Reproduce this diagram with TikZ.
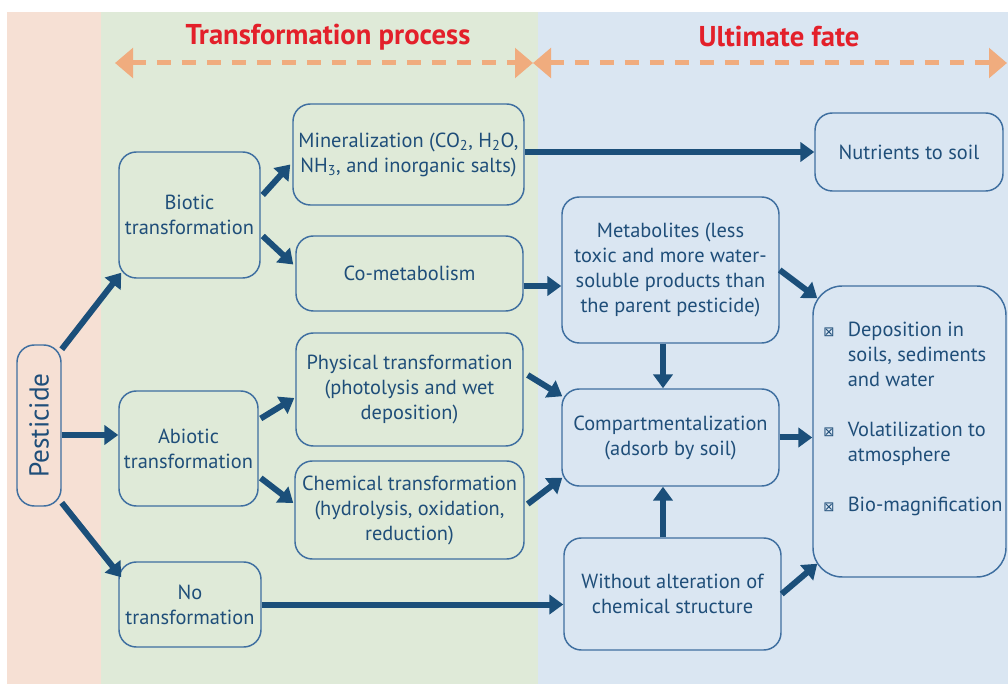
\documentclass[tikz,border=0pt]{standalone}
\usepackage{fontspec}
\setmainfont{PT Sans}
\newfontfamily\symfont{DejaVu Sans}
\usetikzlibrary{arrows.meta}
\definecolor{peach}{HTML}{F6E0D4}
\definecolor{greenbg}{HTML}{DFEAD8}
\definecolor{bluebg}{HTML}{DAE6F2}
\definecolor{boxblue}{HTML}{3F6FA0}
\definecolor{textblue}{HTML}{1F4E79}
\definecolor{arrblue}{HTML}{1B4F7A}
\definecolor{hdrred}{HTML}{E3202A}
\definecolor{hdrorange}{HTML}{F0AC7E}
\begin{document}
\begin{tikzpicture}[x=0.75pt,y=-0.75pt,
  box/.style={draw=boxblue, line width=1.1pt, rounded corners=13pt, align=center,
    text=textblue, font=\fontsize{15.3}{18.75}\selectfont, inner sep=0pt},
  sz/.style 2 args={minimum width={#1*0.75pt}, minimum height={#2*0.75pt}},
  arr/.style={draw=arrblue, line width=4.5pt, -{Triangle[length=10.5pt,width=14.5pt]}},
  hdrarr/.style={draw=hdrorange, line width=3.75pt, dash pattern=on 10.5pt off 8.25pt,
    {Triangle[length=13.5pt,width=22pt]}-{Triangle[length=13.5pt,width=22pt]}},
  hdr/.style={text=hdrred, font=\bfseries\fontsize{21.5}{24}\selectfont, inner sep=0pt}
]
\useasboundingbox (0,0) rectangle (1008,684);
\fill[white] (0,0) rectangle (1008,684);
\fill[peach] (7,12) rectangle (101,684);
\fill[greenbg] (101,12) rectangle (538,684);
\fill[bluebg] (538,12) rectangle (1008,684);

% headers
\node[hdr] (t1) at (328,37) {Transformation process};
\node[hdr] (t2) at (779,37) {Ultimate fate};
\coordinate (h1) at (115,63);
\coordinate (h2) at (533,63);
\coordinate (h3) at (1007,63);
\draw[hdrarr] (h1) -- (h2);
\draw[hdrarr] (h2) -- (h3);

% nodes
\node[box, sz={44}{161}, font=\fontsize{20.5}{22}\selectfont] (pest) at (39,425.5) {\rotatebox{90}{Pesticide}};
\node[box, sz={141}{126}] (bio) at (189.5,215) {Biotic\\transformation};
\node[box, sz={139}{115}] (abio) at (188.5,448.5) {Abiotic\\transformation};
\node[box, sz={142}{85}] (notr) at (190,604.5) {No\\transformation};
\node[box, sz={231}{101}] (mine) at (408.5,154.5) {Mineralization (CO\textsubscript{2}, H\textsubscript{2}O,\\NH\textsubscript{3}, and inorganic salts)};
\node[box, sz={227}{75}] (come) at (409.5,273.5) {Co-metabolism};
\node[box, sz={227}{113}] (phys) at (409.5,389.5) {Physical transformation\\(photolysis and wet\\deposition)};
\node[box, sz={229}{98}] (chem) at (409.5,510) {Chemical transformation\\(hydrolysis, oxidation,\\reduction)};
\node[box, sz={188}{78}] (nutr) at (909,152) {Nutrients to soil};
\node[box, sz={217}{146}] (meta) at (670.5,270) {Metabolites (less\\toxic and more water-\\soluble products than\\the parent pesticide)};
\node[box, sz={217}{97}] (comp) at (670.5,437.5) {Compartmentalization\\(adsorb by soil)};
\node[box, sz={217}{112}] (with) at (672.5,594) {Without alteration of\\chemical structure};
\node[box, sz={193}{291}, rounded corners=22pt] (fate) at (909.5,431.5) {};
\node[anchor=base west, inner sep=0pt, text=textblue, font=\fontsize{15.3}{18.75}\selectfont] (fatetxt) at (823,337)
 {\begin{tabular}[t]{@{}l@{\hspace{10pt}}l@{}}
  {\symfont\fontsize{10}{10}\selectfont ⊠} & Deposition in\\
   & soils, sediments\\
   & and water\\[18.75pt]
  {\symfont\fontsize{10}{10}\selectfont ⊠} & Volatilization to\\
   & atmosphere\\[18.75pt]
  {\symfont\fontsize{10}{10}\selectfont ⊠} & Bio-magnification
 \end{tabular}};

% connectors
\draw[arr] ([shift={(0,5)}]pest.north east) -- ([shift={(3,-6)}]bio.south west);
\draw[arr] ([shift={(0,9.5)}]pest.east) -- ([shift={(0,-13.5)}]abio.west);
\draw[arr] ([shift={(0,-4)}]pest.south east) -- ([shift={(3,16)}]notr.north west);
\draw[arr] ([shift={(2,-20)}]bio.east) -- ([shift={(-2,10)}]mine.west);
\draw[arr] ([shift={(2,21)}]bio.east) -- ([shift={(-2,-9)}]come.west);
\draw[arr] ([shift={(2,-30)}]abio.east) -- ([shift={(-1,8.5)}]phys.west);
\draw[arr] ([shift={(2,29.5)}]abio.east) -- ([shift={(-1,-7)}]chem.west);
\draw[arr] (mine.east |- nutr.west) -- (nutr.west);
\draw[arr] ([shift={(0,12.5)}]come.east) -- ([shift={(0,16)}]meta.west);
\draw[arr] ([shift={(4,-14.5)}]phys.east) -- ([shift={(1,8)}]comp.north west);
\draw[arr] ([shift={(3,-6)}]chem.east) -- ([shift={(1,-9)}]comp.south west);
\draw[arr] (notr.east) -- (with.west |- notr.east);
\draw[arr] ([shift={(-7.5,0)}]meta.south) -- ([shift={(-7.5,0)}]comp.north);
\draw[arr] ([shift={(-9.5,0)}]with.north) -- ([shift={(-7.5,0)}]comp.south);
\draw[arr] (meta.east) -- ([shift={(5,13)}]fate.north west);
\draw[arr] (comp.east) -- (fate.west |- comp.east);
\draw[arr] (with.east) -- ([shift={(5,-14)}]fate.south west);
\end{tikzpicture}
\end{document}
